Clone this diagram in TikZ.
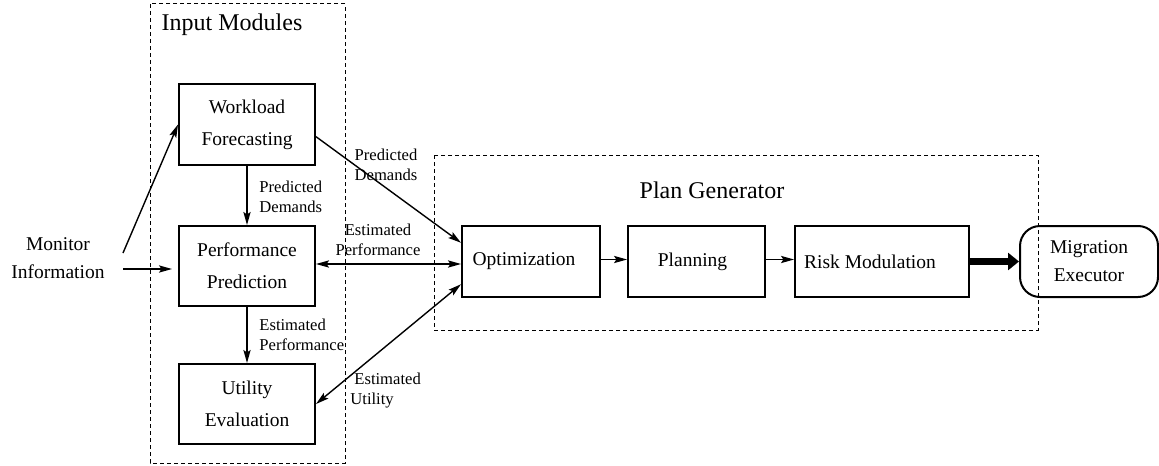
\documentclass[tikz,border=0pt]{standalone}
\usepackage{fontspec}
\setmainfont{Liberation Serif}
\usetikzlibrary{arrows.meta}

\tikzset{
  module/.style={draw, line width=1pt, align=center, inner sep=0pt,
    font=\fontsize{9.75}{16}\selectfont},
  stage/.style={module, minimum height=35.5pt, font=\fontsize{9.75}{14}\selectfont},
  group/.style={draw, line width=0.5pt, dash pattern=on 2pt off 1.5pt},
  grouptitle/.style={font=\fontsize{12}{14}\selectfont},
  flowlabel/.style={font=\fontsize{8.3}{10}\selectfont, align=left, inner sep=0pt},
  flow/.style={->, line width=0.7pt},
  bigflow/.style={-{Triangle[length=5.5pt,width=8.5pt]}, line width=3.5pt}
}

\begin{document}
\begin{tikzpicture}[x=0.5pt, y=-0.5pt, >={Stealth[length=6.5pt,width=3.6pt,inset=1.2pt]}]
\useasboundingbox (0,0) rectangle (1159,465);

% Groups
\draw[group] (150,4) rectangle (345,463);
\node[grouptitle] (inputtitle) at (232,25) {Input Modules};
\draw[group] (434,155) rectangle (1038,330);
\node[grouptitle] (plantitle) at (712,190) {Plan Generator};

% Input modules
\node[module, minimum width=68pt, minimum height=40.5pt] (wf) at (247,124.5) {Workload\\Forecasting};
\node[module, minimum width=68pt, minimum height=40pt] (pp) at (247,266) {Performance\\Prediction};
\node[module, minimum width=68pt, minimum height=40pt] (ue) at (247,404) {Utility\\Evaluation};

% Monitor
\node[align=center, font=\fontsize{9.75}{14}\selectfont] (mon) at (58,258) {Monitor\\Information};
\coordinate (mon1) at (123,253);
\coordinate (mon2) at (123,269);

% Plan generator stages
\node[stage, minimum width=69pt] (opt) at (531,261.5) {Optimization\hspace*{7pt}};
\node[stage, minimum width=68.5pt] (plan) at (696.5,261.5) {Planning\hspace*{4pt}};
\node[stage, minimum width=87pt] (risk) at (882,261.5) {Risk Modulation\hspace*{12pt}};
\node[stage, minimum width=69pt, rounded corners=10pt] (mig) at (1089,261.5) {Migration\\Executor};

% Connectors
\draw[flow] (mon1) -- (wf.west);
\draw[flow, shorten >=3pt] (mon2) -- (mon2 -| pp.west);
\draw[flow] (wf.south) -- (pp.north);
\draw[flow] (pp.south) -- (ue.north);
\draw[flow] (wf.-10) -- (opt.165);
\draw[flow, <->] ([yshift=1pt]pp.east) -- ([yshift=1pt]pp.east -| opt.west);
\draw[flow, <->] (ue.east) -- (opt.198);
\draw[flow] ([yshift=1pt]opt.east) -- ([yshift=1pt]plan.west);
\draw[flow] ([yshift=1pt]plan.east) -- ([yshift=1pt]risk.west);
\draw[bigflow] (risk.east) -- (mig.west);

% Labels
\node[flowlabel, anchor=west] (lbl1) at (259,197) {Predicted\\Demands};
\node[flowlabel, anchor=west] (lbl2) at (259,334.5) {Estimated\\Performance};
\node[flowlabel, align=center] (lbl3) at (386,164.5) {Predicted\\Demands};
\node[flowlabel, align=center] (lbl4) at (378,239.5) {Estimated\\Performance};
\node[flowlabel, anchor=west] (lbl5) at (350,391) {\hspace*{2pt}Estimated\\Utility};

\end{tikzpicture}
\end{document}
